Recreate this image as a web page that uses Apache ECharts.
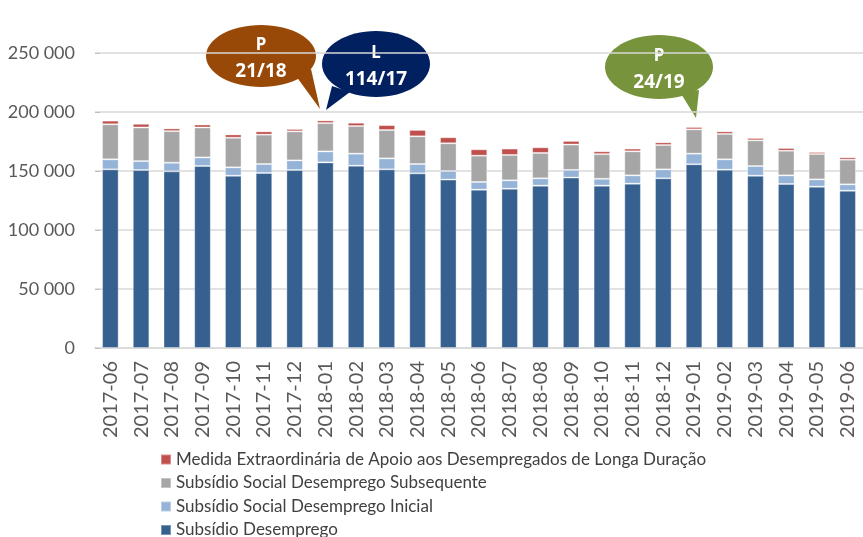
<!DOCTYPE html>
<html>
<head>
<meta charset="utf-8">
<script src="https://cdn.jsdelivr.net/npm/echarts@6/dist/echarts.min.js"></script>
<style>
  html, body { margin: 0; padding: 0; background: #fff; }
  #chart { width: 863px; height: 537px; }
</style>
</head>
<body>
<div id="chart"></div>
<script>
// months on the category axis
const months = [
  "2017-06", "2017-07", "2017-08", "2017-09", "2017-10", "2017-11", "2017-12",
  "2018-01", "2018-02", "2018-03", "2018-04", "2018-05", "2018-06", "2018-07",
  "2018-08", "2018-09", "2018-10", "2018-11", "2018-12", "2019-01", "2019-02",
  "2019-03", "2019-04", "2019-05", "2019-06"
];

const subsidioDesemprego = [
  151400, 150800, 149700, 154200, 146000, 148300, 150800,
  157300, 154500, 151400, 148000, 142700, 134200, 135000,
  137600, 144400, 137600, 139300, 143800, 155700, 151100,
  146000, 139000, 136700, 133300
];
const socialInicial = [
  8500, 7600, 7300, 7300, 7100, 7600, 8200,
  9300, 10200, 9300, 7900, 7300, 6500, 7100,
  6200, 6500, 5800, 7000, 7600, 9000, 8800,
  8200, 7300, 6200, 5400
];
const socialSubsequente = [
  29700, 28500, 26800, 25400, 25100, 24900, 24600,
  24000, 23400, 24000, 23500, 23500, 22300, 21500,
  21500, 21500, 20900, 20400, 20600, 20600, 21500,
  21800, 20900, 21500, 20900
];
const medidaExtraordinaria = [
  3100, 3100, 2300, 2500, 2800, 2800, 2000,
  2300, 2800, 4200, 5400, 5100, 5400, 5400,
  4800, 3100, 2400, 2300, 2300, 2000, 2200,
  2000, 2300, 1700, 2000
];

const seriesNames = [
  "Subsídio Desemprego",
  "Subsídio Social Desemprego Inicial",
  "Subsídio Social Desemprego Subsequente",
  "Medida Extraordinária de Apoio aos Desempregados de Longa Duração"
];
const seriesColors = ["#36608f", "#95b3d7", "#a6a6a6", "#c0504d"];
const seriesData = [subsidioDesemprego, socialInicial, socialSubsequente, medidaExtraordinaria];

const chart = echarts.init(document.getElementById("chart"));

function bubble(color, cx, cy, rx, ry, tail, line1, line2) {
  return {
    type: "group",
    children: [
      { type: "polygon", shape: { points: tail }, style: { fill: color } },
      { type: "ellipse", shape: { cx: cx, cy: cy, rx: rx, ry: ry }, style: { fill: color } },
      {
        type: "text", x: cx, y: cy - 11,
        style: { text: line1, fill: "#fff", font: "bold 17px 'Noto Sans'", align: "center", verticalAlign: "middle" }
      },
      {
        type: "text", x: cx, y: cy + 16,
        style: { text: line2, fill: "#fff", font: "bold 19px 'Noto Sans'", align: "center", verticalAlign: "middle" }
      }
    ]
  };
}

chart.setOption({
  animation: false,
  textStyle: { fontFamily: "Lato" },
  grid: { left: 95, top: 53, width: 772, bottom: 189 },
  legend: {
    data: seriesNames.slice().reverse(),
    orient: "vertical",
    left: 160,
    top: 451,
    height: 140,
    padding: 0,
    itemWidth: 10,
    itemHeight: 10,
    itemGap: 6.5,
    icon: "rect",
    textStyle: { fontSize: 17, color: "#404040", fontFamily: "Lato" }
  },
  xAxis: {
    type: "category",
    data: months,
    axisLine: { lineStyle: { color: "#d9d9d9", width: 1.5 } },
    axisTick: { show: false },
    axisLabel: { rotate: 90, fontSize: 20, color: "#595959", margin: 13, interval: 0 }
  },
  yAxis: {
    type: "value",
    min: 0,
    max: 250000,
    interval: 50000,
    axisLine: { show: false },
    axisTick: { show: true, inside: true, length: 5, lineStyle: { color: "#bfbfbf" } },
    splitLine: { lineStyle: { color: "#d9d9d9", width: 1.5 } },
    axisLabel: {
      fontSize: 18,
      color: "#595959",
      margin: 20,
      formatter: v => String(v).replace(/\B(?=(\d{3})+(?!\d))/g, " ")
    }
  },
  series: seriesNames.map((name, i) => ({
    name: name,
    type: "bar",
    stack: "total",
    barCategoryGap: "46%",
    data: seriesData[i],
    itemStyle: { color: seriesColors[i], borderColor: "rgba(255,255,255,0.35)", borderWidth: 1 }
  })),
  graphic: [
    bubble("#984807", 261, 56, 55, 31, [[296, 76], [311, 69], [320, 109]], "P", "21/18"),
    bubble("#002060", 376, 64, 54, 33, [[332, 86], [350, 92], [326, 110]], "L", "114/17"),
    bubble("#77933c", 659, 67, 54, 32, [[680, 92], [699, 90], [696, 118]], "P", "24/19")
  ]
});
</script>
</body>
</html>
